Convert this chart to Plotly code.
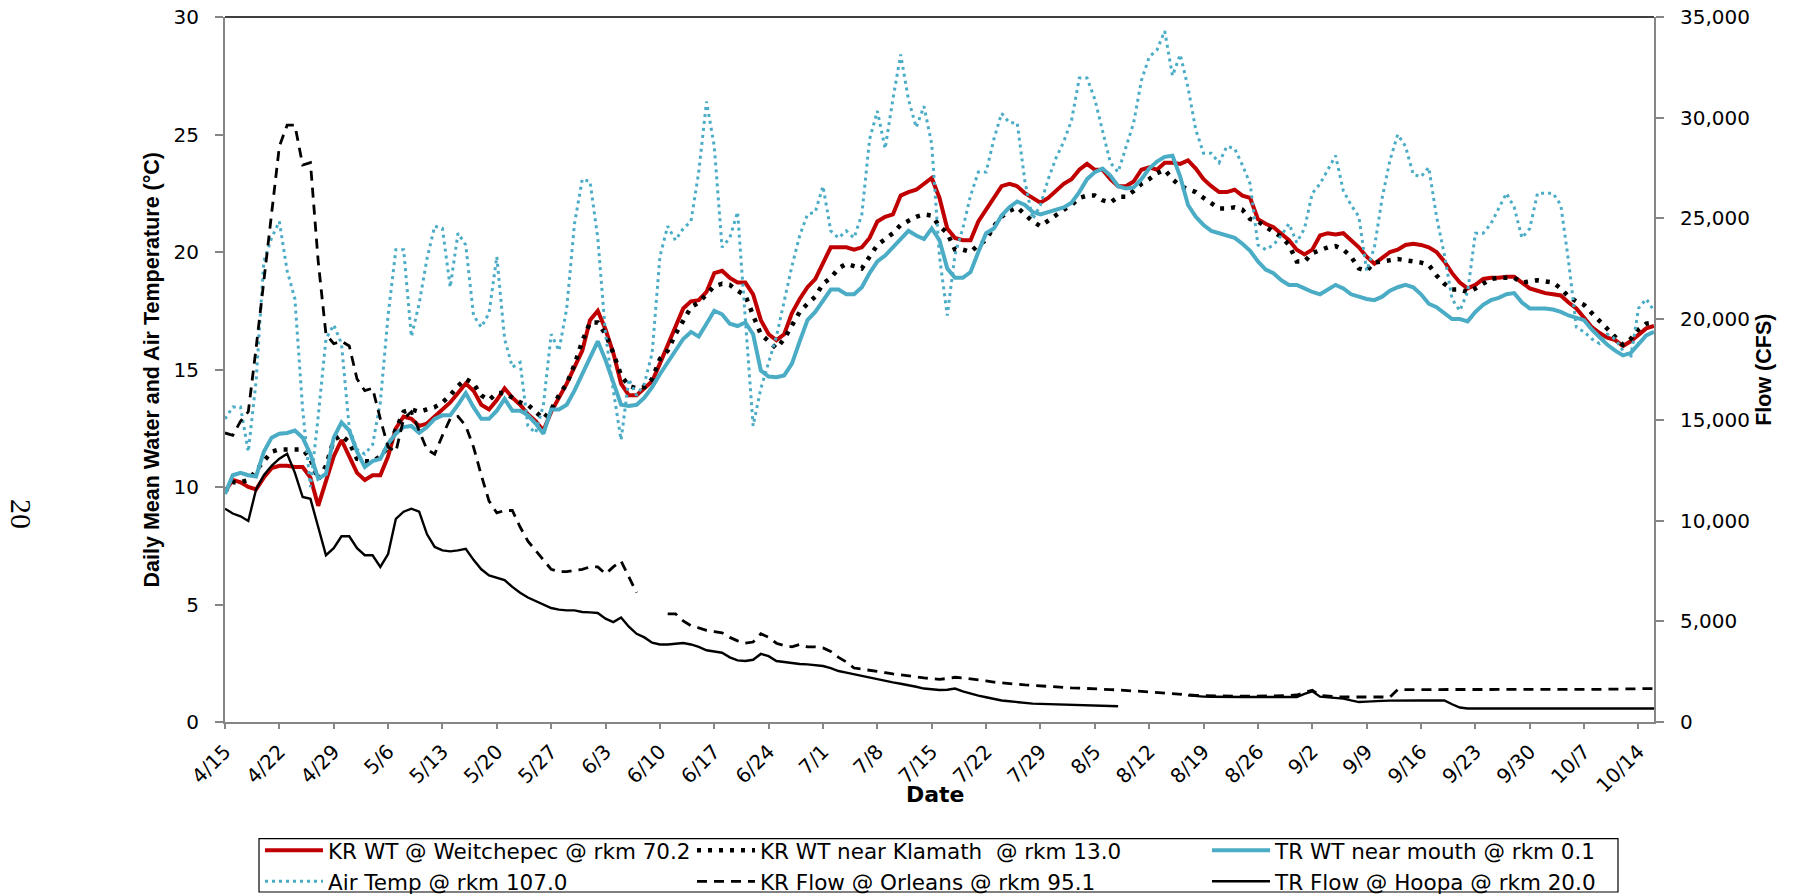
import plotly.graph_objects as go
import pandas as pd

# ---------------- data (daily, 4/15 .. 10/16) ----------------
START_DATE = "2009-04-15"
END_DATE = "2009-10-16"

TICK_LABELS = ["4/15", "4/22", "4/29", "5/6", "5/13", "5/20", "5/27", "6/3", "6/10",
               "6/17", "6/24", "7/1", "7/8", "7/15", "7/22", "7/29", "8/5", "8/12",
               "8/19", "8/26", "9/2", "9/9", "9/16", "9/23", "9/30", "10/7", "10/14"]

KR_WT_WEITCHEPEC = [
    9.8, 10.3, 10.2, 10.0, 9.9, 10.4, 10.8, 10.9, 10.9, 10.85,
    10.85, 10.4, 9.2, 10.3, 11.3, 12.0, 11.3, 10.6, 10.3, 10.5,
    10.5, 11.3, 12.5, 13.0, 12.9, 12.6, 12.7, 13.0, 13.3, 13.6,
    14.0, 14.4, 14.1, 13.5, 13.3, 13.7, 14.2, 13.8, 13.5, 13.1,
    12.8, 12.4, 13.2, 13.8, 14.4, 15.1, 15.8, 17.1, 17.5, 16.7,
    15.7, 14.4, 13.9, 13.9, 14.2, 14.5, 15.25, 16.0, 16.8, 17.6,
    17.9, 17.95, 18.3, 19.1, 19.2, 18.9, 18.7, 18.7, 18.2, 17.1,
    16.5, 16.25, 16.5, 17.4, 18.0, 18.5, 18.85, 19.5, 20.2, 20.2,
    20.2, 20.1, 20.2, 20.6, 21.3, 21.5, 21.6, 22.4, 22.55, 22.65,
    22.9, 23.15, 22.3, 21.0, 20.6, 20.5, 20.5, 21.3, 21.8, 22.3,
    22.8, 22.9, 22.8, 22.5, 22.3, 22.1, 22.3, 22.6, 22.9, 23.1,
    23.5, 23.75, 23.5, 23.5, 23.1, 22.8, 22.8, 23.0, 23.5, 23.6,
    23.5, 23.8, 23.8, 23.75, 23.9, 23.55, 23.1, 22.8, 22.55, 22.55,
    22.65, 22.4, 22.3, 21.4, 21.2, 21.05, 20.8, 20.5, 20.1, 19.9,
    20.1, 20.7, 20.8, 20.75, 20.8, 20.5, 20.2, 19.8, 19.5, 19.75,
    20.0, 20.1, 20.3, 20.35, 20.3, 20.2, 20.0, 19.6, 19.1, 18.7,
    18.45, 18.6, 18.85, 18.9, 18.9, 18.95, 18.95, 18.7, 18.45, 18.35,
    18.25, 18.2, 18.15, 17.85, 17.6, 17.2, 16.8, 16.55, 16.35, 16.25,
    16.0, 16.2, 16.5, 16.75, 16.85]

KR_WT_KLAMATH = [
    9.8, 10.2, 10.2, 10.3, 10.7, 11.1, 11.5, 11.6, 11.6, 11.6,
    11.6, 11.2, 10.3, 10.9, 12.0, 12.2, 11.9, 11.2, 11.1, 11.1,
    11.3, 11.7, 12.4, 13.2, 13.3, 13.2, 13.3, 13.4, 13.6, 13.9,
    14.3, 14.6, 14.4, 13.9, 13.7, 14.0, 14.0, 13.8, 13.6, 13.5,
    13.2, 12.9, 13.3, 13.9, 14.4, 15.2, 16.2, 17.0, 17.0, 16.5,
    15.7, 14.75, 14.3, 14.2, 14.25, 14.6, 15.45, 15.8, 16.5, 17.1,
    17.65, 17.85, 18.2, 18.55, 18.65, 18.6, 18.35, 18.15, 17.3, 16.5,
    16.2, 15.9, 16.3, 16.9, 17.45, 17.8, 18.1, 18.65, 18.9, 19.3,
    19.5, 19.4, 19.3, 19.8, 20.3, 20.55, 20.8, 21.15, 21.35, 21.5,
    21.6, 21.55, 21.1, 20.8, 20.1, 20.1, 20.0, 20.3, 20.5, 21.1,
    21.5, 21.75, 21.9, 21.6, 21.3, 21.1, 21.35, 21.55, 21.8, 22.0,
    22.3, 22.4, 22.4, 22.2, 22.1, 22.35, 22.35, 22.6, 22.9, 23.1,
    23.35, 23.5, 23.1, 22.8, 22.65, 22.55, 22.3, 22.05, 21.85, 21.85,
    21.9, 21.8, 21.4, 21.3, 21.05, 20.85, 20.65, 20.3, 19.6, 19.6,
    19.95, 20.1, 20.2, 20.25, 20.1, 19.8, 19.3, 19.2, 19.55, 19.6,
    19.65, 19.7, 19.65, 19.6, 19.55, 19.45, 19.0, 18.65, 18.4, 18.4,
    18.3, 18.45, 18.65, 18.85, 18.9, 18.9, 18.9, 18.7, 18.75, 18.8,
    18.75, 18.7, 18.45, 18.1, 17.9, 17.75, 17.4, 17.05, 16.7, 16.35,
    16.05, 16.3, 16.7, 16.95, 17.0]

TR_WT_MOUTH = [
    9.7, 10.5, 10.6, 10.5, 10.45, 11.5, 12.1, 12.27, 12.3, 12.4,
    12.1, 11.4, 10.35, 10.55, 12.1, 12.75, 12.4, 11.5, 10.85, 11.1,
    11.2, 11.85, 12.27, 12.55, 12.6, 12.3, 12.55, 12.9, 13.05, 13.05,
    13.5, 14.0, 13.4, 12.9, 12.9, 13.25, 13.75, 13.25, 13.25, 13.05,
    12.7, 12.27, 13.3, 13.3, 13.5, 14.1, 14.8, 15.5, 16.2, 15.4,
    14.5, 13.5, 13.45, 13.5, 13.8, 14.25, 14.8, 15.3, 15.8, 16.3,
    16.6, 16.4, 16.95, 17.5, 17.35, 16.95, 16.85, 17.0, 16.5, 14.95,
    14.7, 14.67, 14.75, 15.25, 16.2, 17.1, 17.45, 17.9, 18.4, 18.4,
    18.2, 18.2, 18.5, 19.1, 19.6, 19.85, 20.2, 20.6, 20.9, 20.7,
    20.55, 21.0, 20.5, 19.3, 18.9, 18.9, 19.15, 20.0, 20.8, 21.0,
    21.55, 21.9, 22.15, 22.0, 21.7, 21.6, 21.7, 21.8, 21.9, 22.1,
    22.55, 23.1, 23.4, 23.55, 23.25, 22.8, 22.7, 22.75, 23.1, 23.55,
    23.85, 24.05, 24.1, 23.2, 22.0, 21.5, 21.15, 20.9, 20.8, 20.7,
    20.6, 20.35, 20.05, 19.6, 19.25, 19.1, 18.8, 18.6, 18.6, 18.45,
    18.3, 18.2, 18.4, 18.6, 18.45, 18.2, 18.1, 18.0, 17.95, 18.1,
    18.35, 18.5, 18.6, 18.5, 18.2, 17.8, 17.65, 17.4, 17.15, 17.15,
    17.05, 17.45, 17.75, 17.95, 18.05, 18.2, 18.25, 17.85, 17.6, 17.6,
    17.6, 17.55, 17.45, 17.3, 17.2, 17.1, 16.7, 16.35, 16.05, 15.8,
    15.6, 15.7, 16.1, 16.45, 16.6]

AIR_TEMP = [
    12.9, 13.4, 13.4, 11.5, 14.5, 19.6, 20.6, 21.3, 19.2, 18.0,
    13.3, 10.0, 13.0, 16.3, 16.9, 16.1, 12.5, 11.6, 11.4, 11.8,
    13.6, 17.3, 20.1, 20.1, 16.4, 17.8, 19.7, 21.1, 21.0, 18.5,
    20.8, 20.3, 17.3, 16.8, 17.4, 19.8, 16.3, 15.1, 15.3, 12.6,
    12.3, 13.5, 16.5, 15.8, 17.6, 21.2, 23.1, 23.0, 20.6, 16.5,
    14.1, 12.0, 14.6, 13.9, 14.4, 15.7, 19.8, 21.1, 20.5, 21.0,
    21.3, 23.4, 26.4, 24.5, 20.2, 20.6, 21.7, 17.0, 12.6, 14.2,
    15.3, 16.4, 17.9, 19.4, 20.7, 21.6, 21.7, 22.8, 20.9, 20.6,
    20.9, 20.6, 21.6, 24.8, 26.0, 24.4, 26.5, 28.4, 26.5, 25.3,
    26.2, 24.6, 19.8, 17.3, 19.9, 21.0, 22.4, 23.4, 23.4, 24.8,
    25.9, 25.5, 25.5, 23.0, 21.4, 22.0, 23.1, 24.0, 24.7, 25.6,
    27.4, 27.4, 26.5, 25.1, 23.8, 23.4, 24.5, 25.5, 27.3, 28.3,
    28.6, 29.4, 27.5, 28.4, 27.0, 25.2, 24.2, 24.2, 23.8, 24.5,
    24.4, 23.7, 22.9, 20.3, 20.1, 20.3, 20.7, 21.2, 20.4, 21.0,
    22.5, 22.9, 23.5, 24.1, 22.6, 22.0, 21.5, 19.2, 20.2, 22.3,
    23.9, 25.0, 24.5, 23.3, 23.2, 23.6, 21.5, 19.9, 18.0, 17.5,
    18.3, 20.8, 20.8, 21.2, 21.85, 22.5, 21.9, 20.6, 21.0, 22.5,
    22.5, 22.5, 22.0, 19.6, 16.8, 16.6, 16.3, 16.1, 16.5, 16.3,
    15.8, 15.5, 17.6, 18.0, 17.5]

KR_FLOW = [
    14350, 14230, 14930, 15400, 18550, 21820, 25080, 28580, 29630, 29630,
    27650, 27770, 22870, 19250, 18780, 18900, 18670, 17030, 16450, 16570,
    15050, 13650, 13420, 15050, 15400, 14470, 13530, 13300, 14230, 15050,
    15170, 14700, 13650, 12250, 10970, 10380, 10500, 10500, 9680, 8980,
    8520, 8050, 7580, 7470, 7470, 7530, 7580, 7700, 7700, 7350,
    7700, 7990, 7230, 6420, None, None, None, 5370, 5370, 5020,
    4780, 4670, 4550, 4490, 4430, 4200, 4030, 3910, 3970, 4380,
    4200, 3910, 3790, 3730, 3850, 3730, 3730, 3680, 3500, 3210,
    2980, 2680, 2630, 2570, 2510, 2450, 2390, 2330, 2280, 2240,
    2190, 2160, 2120, 2160, 2220, 2190, 2150, 2100, 2040, 1980,
    1940, 1900, 1870, 1840, 1820, 1790, 1760, 1740, 1710, 1690,
    1680, 1670, 1660, 1630, 1610, 1590, 1580, 1540, 1520, 1490,
    1460, 1420, 1400, 1380, 1340, 1320, 1310, 1300, 1280, 1280,
    1280, 1280, 1280, 1280, 1280, 1280, 1280, 1310, 1340, 1460,
    1580, 1320, 1280, 1260, 1240, 1240, 1240, 1240, 1240, 1240,
    1240, 1610, 1610, 1610, 1610, 1610, 1610, 1610, 1600, 1600,
    1600, 1600, 1600, 1600, 1600, 1590, 1590, 1590, 1590, 1590,
    1590, 1600, 1600, 1610, 1610, 1610, 1620, 1620, 1630, 1630,
    1640, 1640, 1650, 1650, 1660]

TR_FLOW = [
    10590, 10350, 10210, 9980, 11550, 12250, 12720, 13070, 13320, 12370,
    11170, 11080, 9680, 8280, 8630, 9220, 9220, 8630, 8280, 8280,
    7700, 8340, 10090, 10440, 10590, 10440, 9330, 8690, 8520, 8470,
    8520, 8600, 8050, 7580, 7280, 7160, 7040, 6710, 6420, 6180,
    6010, 5830, 5660, 5580, 5540, 5540, 5460, 5440, 5410, 5130,
    4960, 5190, 4730, 4380, 4200, 3940, 3850, 3850, 3890, 3920,
    3850, 3730, 3560, 3500, 3440, 3210, 3060, 3030, 3090, 3380,
    3270, 3030, 2980, 2920, 2880, 2860, 2820, 2780, 2680, 2530,
    2450, 2370, 2280, 2190, 2100, 2040, 1970, 1900, 1840, 1750,
    1660, 1610, 1590, 1600, 1660, 1520, 1400, 1310, 1230, 1140,
    1070, 1030, 980, 930, 910, 900, 890, 880, 860, 850,
    840, 830, 820, 810, 790, 780, None, None, None, None,
    None, None, None, None, 1320, 1280, 1260, 1250, 1240, 1240,
    1240, 1240, 1240, 1240, 1240, 1240, 1240, 1240, 1240, 1400,
    1520, 1260, 1230, 1190, 1160, 1070, 990, 1010, 1040, 1050,
    1060, 1070, 1070, 1070, 1070, 1070, 1070, 1070, 880, 720,
    670, 670, 670, 670, 670, 670, 670, 670, 670, 670,
    670, 670, 670, 670, 670, 670, 670, 670, 670, 670,
    670, 670, 670, 670, 670]

dates = pd.date_range(START_DATE, END_DATE, freq="D")
for arr in (KR_WT_WEITCHEPEC, KR_WT_KLAMATH, TR_WT_MOUTH, AIR_TEMP, KR_FLOW, TR_FLOW):
    assert len(arr) == len(dates), len(arr)

RED = "#C00000"
AQUA = "#4BACC6"
AXIS_GREY = "#868686"

fig = go.Figure()
fig.add_trace(go.Scatter(x=dates, y=KR_WT_WEITCHEPEC, name="KR WT @ Weitchepec @ rkm 70.2",
                         mode="lines", line=dict(color=RED, width=4), legend="legend"))
fig.add_trace(go.Scatter(x=dates, y=KR_WT_KLAMATH, name="KR WT near Klamath  @ rkm 13.0",
                         mode="lines", line=dict(color="black", width=4.5, dash="4px,7px"),
                         legend="legend2"))
fig.add_trace(go.Scatter(x=dates, y=TR_WT_MOUTH, name="TR WT near mouth @ rkm 0.1",
                         mode="lines", line=dict(color=AQUA, width=4), legend="legend3"))
fig.add_trace(go.Scatter(x=dates, y=AIR_TEMP, name="Air Temp @ rkm 107.0",
                         mode="lines", line=dict(color=AQUA, width=3, dash="3px,4px"),
                         legend="legend"))
fig.add_trace(go.Scatter(x=dates, y=KR_FLOW, name="KR Flow @ Orleans @ rkm 95.1", yaxis="y2",
                         mode="lines", line=dict(color="black", width=2.8, dash="10px,7px"),
                         legend="legend2"))
fig.add_trace(go.Scatter(x=dates, y=TR_FLOW, name="TR Flow @ Hoopa @ rkm 20.0", yaxis="y2",
                         mode="lines", line=dict(color="black", width=2.4), legend="legend3"))

tick_font = dict(family="DejaVu Sans", size=20, color="black")
title_font = dict(family="Liberation Sans, Arial", size=21.5, color="black")
legend_font = dict(family="DejaVu Sans", size=21.5, color="black")


def legend_box(xpos):
    return dict(orientation="v", x=xpos, xanchor="left", y=-0.153, yanchor="top",
                borderwidth=0, bgcolor="rgba(0,0,0,0)", font=legend_font,
                itemwidth=58, tracegroupgap=0, traceorder="normal")


fig.update_layout(
    width=1806, height=894, template="none",
    margin=dict(l=225, r=152, t=17, b=172, pad=0, autoexpand=False),
    paper_bgcolor="white", plot_bgcolor="white",
    font=dict(family="DejaVu Sans", size=20, color="black"),
    showlegend=True,
    legend=legend_box(0.0245),
    legend2=legend_box(0.3268),
    legend3=legend_box(0.6872),
    xaxis=dict(type="date", range=[dates[0], dates[-1]],
               tickmode="array", tickvals=list(dates[::7]), ticktext=TICK_LABELS,
               tickangle=-45, ticks="outside", ticklen=5, tickwidth=1.5, tickcolor=AXIS_GREY,
               showline=True, linecolor=AXIS_GREY, linewidth=2,
               showgrid=False, zeroline=False, automargin=False,
               tickfont=tick_font, ticklabelstandoff=3),
    yaxis=dict(range=[0, 30], tickmode="linear", tick0=0, dtick=5,
               ticks="outside", ticklen=8, tickwidth=1.5, tickcolor=AXIS_GREY,
               showline=True, linecolor=AXIS_GREY, linewidth=2,
               showgrid=False, zeroline=False, automargin=False,
               tickfont=tick_font, ticklabelstandoff=12),
    yaxis2=dict(range=[0, 35000], tickmode="linear", tick0=0, dtick=5000, tickformat=",",
                overlaying="y", side="right",
                ticks="outside", ticklen=8, tickwidth=1.5, tickcolor=AXIS_GREY,
                showline=True, linecolor=AXIS_GREY, linewidth=2,
                showgrid=False, zeroline=False, automargin=False,
                tickfont=tick_font, ticklabelstandoff=12),
    shapes=[
        dict(type="line", xref="paper", yref="paper", x0=0, x1=1, y0=1, y1=1,
             line=dict(color="black", width=1.5)),
        # frame around the legend entries
        dict(type="rect", xref="paper", yref="paper", x0=0.0238, x1=0.9748,
             y0=-0.2411, y1=-0.1655, line=dict(color="black", width=1.2),
             fillcolor="rgba(0,0,0,0)", layer="below"),
    ],
    annotations=[
        dict(text="<b>Daily Mean Water and Air Temperature (°C)</b>", xref="paper", yref="paper",
             x=-0.0511, y=0.5, xanchor="center", yanchor="middle", textangle=-90,
             showarrow=False, font=title_font),
        dict(text="<b>Flow (CFS)</b>", xref="paper", yref="paper",
             x=1.0765, y=0.5, xanchor="center", yanchor="middle", textangle=-90,
             showarrow=False, font=title_font),
        dict(text="<b>Date</b>", xref="paper", yref="paper",
             x=0.497, y=-0.1035, xanchor="center", yanchor="middle",
             showarrow=False, font=dict(family="DejaVu Sans", size=22, color="black")),
        dict(text="20", xref="paper", yref="paper",
             x=-0.142, y=0.295, xanchor="center", yanchor="middle", textangle=90,
             showarrow=False, font=dict(family="Liberation Serif", size=30, color="black")),
    ],
)

fig.write_html("out.html")
